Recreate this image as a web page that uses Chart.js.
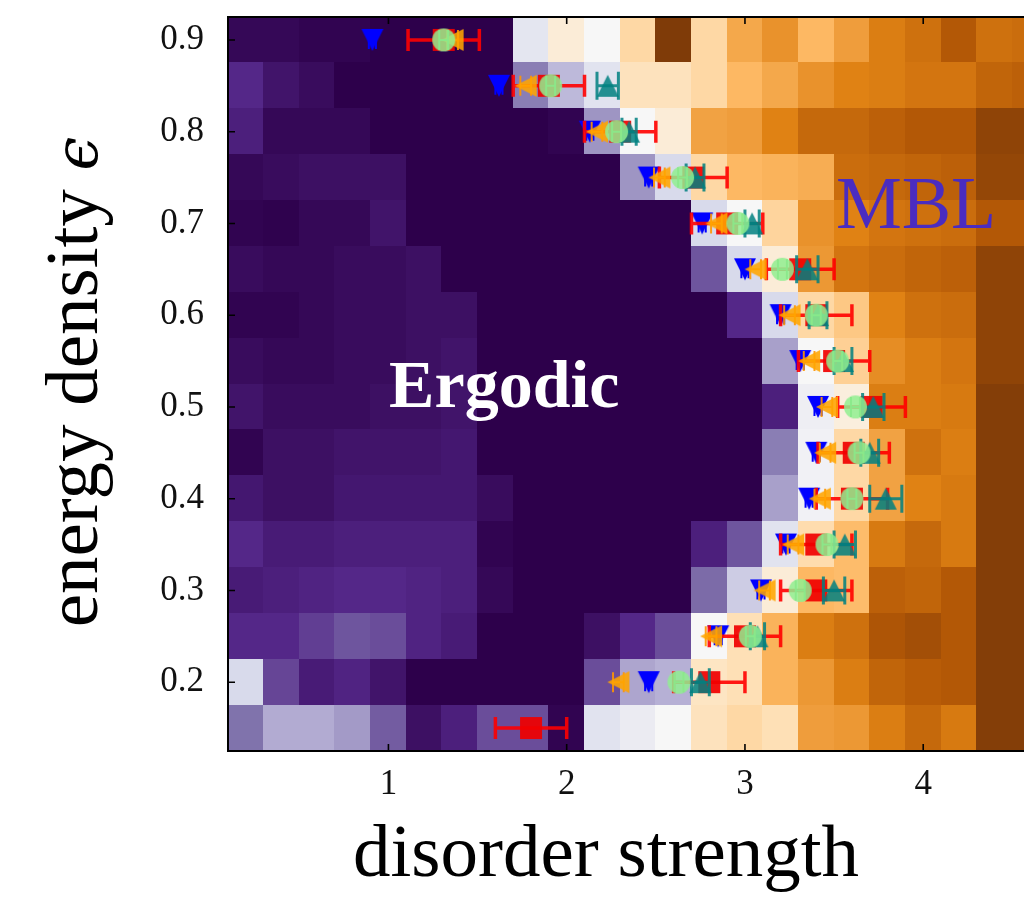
<!DOCTYPE html>
<html>
<head>
<meta charset="utf-8">
<script src="https://cdn.jsdelivr.net/npm/chart.js@4/dist/chart.umd.min.js"></script>
<style>
  html, body { margin: 0; padding: 0; background: #fff; overflow: hidden; width: 1024px; height: 901px; }
  #wrap { position: absolute; left: 0; top: 0; width: 1060px; height: 901px; }
</style>
</head>
<body>
<div id="wrap"><canvas id="c" width="1060" height="901"></canvas></div>
<script>
// ---- axis ticks ----
const xTicks = [1, 2, 3, 4];
const yTicks = [0.2, 0.3, 0.4, 0.5, 0.6, 0.7, 0.8, 0.9];

// ---- heat map grid (value 0 = ergodic purple, 0.5 = white, 1 = MBL brown) ----
const colCenters = [0.2, 0.4, 0.6, 0.8, 1.0, 1.2, 1.4, 1.6, 1.8, 2.0, 2.2, 2.4, 2.6, 2.8, 3.0, 3.2, 3.4, 3.6, 3.8, 4.0, 4.2, 4.4, 4.6];
const rowCenters = [0.9, 0.85, 0.8, 0.75, 0.7, 0.65, 0.6, 0.55, 0.5, 0.45, 0.4, 0.35, 0.3, 0.25, 0.2, 0.15];
const cellW = 0.2, cellH = 0.05;
const heat = [
  [0.02,0.02,0.01,0.01,0,0,0,0,0.44,0.55,0.5,0.62,1.0,0.62,0.73,0.77,0.7,0.75,0.81,0.84,0.9,0.84,0.85],
  [0.1,0.05,0.03,0,0,0,0,0,0.22,0.33,0.43,0.59,0.59,0.62,0.7,0.73,0.77,0.8,0.81,0.83,0.83,0.87,0.88],
  [0.08,0.02,0.02,0.02,0,0,0,0,0,0.01,0.26,0.5,0.55,0.74,0.75,0.8,0.86,0.86,0.88,0.9,0.9,0.97,0.97],
  [0.02,0.03,0.04,0.04,0.04,0,0,0,0,0,0,0.26,0.4,0.62,0.7,0.71,0.72,0.85,0.86,0.87,0.88,0.96,0.96],
  [0.01,0.005,0.02,0.02,0.05,0,0,0,0,0,0,0,0,0.4,0.5,0.63,0.77,0.8,0.83,0.84,0.85,0.9,0.9],
  [0.03,0.02,0.02,0.03,0.03,0.04,0,0,0,0,0,0,0,0.16,0.4,0.55,0.76,0.83,0.85,0.87,0.88,0.97,0.97],
  [0.01,0.01,0.02,0.03,0.03,0.04,0.04,0,0,0,0,0,0,0,0.1,0.4,0.62,0.66,0.8,0.84,0.85,0.97,0.97],
  [0.03,0.02,0.02,0.03,0.03,0.04,0.05,0,0,0,0,0,0,0,0,0.28,0.5,0.64,0.78,0.81,0.83,0.97,0.97],
  [0.05,0.03,0.03,0.03,0.04,0.04,0.05,0,0,0,0,0,0,0,0,0.08,0.47,0.54,0.81,0.81,0.82,0.99,0.99],
  [0.01,0.04,0.04,0.05,0.05,0.05,0.06,0,0,0,0,0,0,0,0,0.22,0.48,0.62,0.74,0.84,0.81,0.99,0.99],
  [0.06,0.04,0.04,0.06,0.06,0.06,0.06,0.03,0,0,0,0,0,0,0,0.28,0.48,0.62,0.74,0.8,0.82,0.99,0.99],
  [0.1,0.07,0.07,0.08,0.08,0.08,0.08,0.01,0,0,0,0,0,0.08,0.16,0.43,0.61,0.69,0.82,0.86,0.82,0.99,0.99],
  [0.07,0.08,0.09,0.1,0.1,0.09,0.08,0.02,0,0,0,0,0,0.19,0.37,0.55,0.7,0.69,0.88,0.87,0.9,0.99,0.99],
  [0.1,0.1,0.13,0.16,0.15,0.09,0.07,0,0,0,0.04,0.1,0.15,0.5,0.6,0.71,0.81,0.84,0.91,0.93,0.9,0.99,0.99],
  [0.4,0.14,0.07,0.09,0.05,0,0,0,0,0,0.15,0.29,0.31,0.58,0.6,0.71,0.76,0.81,0.87,0.89,0.9,0.99,0.99],
  [0.2,0.3,0.3,0.27,0.17,0.04,0.08,0.15,0.15,0.01,0.43,0.46,0.5,0.59,0.62,0.6,0.75,0.76,0.81,0.86,0.82,0.99,0.99]
];

// ---- transition estimates (one x per energy density level) ----
const levels   = [0.9, 0.85, 0.8, 0.75, 0.7, 0.65, 0.6, 0.55, 0.5, 0.45, 0.4, 0.35, 0.3, 0.25, 0.2];
const blueX    = [0.91, 1.62, 2.13, 2.46, 2.76, 3.00, 3.20, 3.31, 3.41, 3.40, 3.36, 3.23, 3.09, 2.85, 2.46];
const blueErr  = [0.02, 0.02, 0.02, 0.02, 0.02, 0.02, 0.02, 0.02, 0.02, 0.02, 0.02, 0.02, 0.02, 0.02, 0.02];
const orangeX  = [1.36, 1.77, 2.17, 2.52, 2.84, 3.06, 3.25, 3.36, 3.46, 3.45, 3.42, 3.27, 3.11, 2.81, 2.29];
const orangeErr= [0.03, 0.03, 0.03, 0.03, 0.03, 0.03, 0.03, 0.03, 0.03, 0.03, 0.03, 0.03, 0.03, 0.03, 0.03];
const redLevels= [0.9, 0.85, 0.8, 0.75, 0.7, 0.65, 0.6, 0.55, 0.5, 0.45, 0.4, 0.35, 0.3, 0.25, 0.2, 0.15];
const redX     = [1.31, 1.90, 2.30, 2.71, 2.90, 3.31, 3.40, 3.50, 3.71, 3.61, 3.60, 3.40, 3.40, 3.00, 2.80, 1.80];
const redErr   = [0.20, 0.20, 0.20, 0.19, 0.20, 0.19, 0.20, 0.20, 0.19, 0.20, 0.20, 0.20, 0.20, 0.20, 0.20, 0.20];
const greenX   = [1.31, 1.91, 2.28, 2.65, 2.96, 3.21, 3.40, 3.52, 3.62, 3.64, 3.60, 3.46, 3.31, 3.03, 2.63];
const greenErr = [0.025,0.025,0.025,0.025,0.025,0.025,0.025,0.025,0.025,0.025,0.025,0.025,0.025,0.025,0.025];
const tealLevels=[0.85, 0.8, 0.75, 0.7, 0.65, 0.6, 0.55, 0.5, 0.45, 0.4, 0.35, 0.3, 0.25, 0.2];
const tealX    = [2.23, 2.35, 2.72, 3.04, 3.35, 3.41, 3.55, 3.72, 3.70, 3.79, 3.56, 3.50, 3.07, 2.75];
const tealErr  = [0.06, 0.04, 0.05, 0.04, 0.06, 0.05, 0.05, 0.06, 0.05, 0.09, 0.06, 0.06, 0.04, 0.05];

// ---- PuOr colour map, purple end first ----
const PUOR = ['#2d004b','#542788','#8073ac','#b2abd2','#d8daeb','#f7f7f7','#fee0b6','#fdb863','#e08214','#b35806','#7f3b08'];
function hexRgb(h){ return [1,3,5].map(i => parseInt(h.slice(i, i+2), 16)); }
function cmap(v){
  v = Math.max(0, Math.min(1, v));
  const p = v * 10, i = Math.min(9, Math.floor(p)), t = p - i;
  const a = hexRgb(PUOR[i]), b = hexRgb(PUOR[i+1]);
  const c = a.map((av, k) => Math.round(av + (b[k] - av) * t));
  return `rgb(${c[0]},${c[1]},${c[2]})`;
}

// ---- marker glyphs ----
function markerCanvas(shape, size, color){
  const pad = 2, n = Math.ceil(size) + pad * 2;
  const cv = document.createElement('canvas');
  cv.width = n; cv.height = n;
  const g = cv.getContext('2d');
  const c = n / 2, h = size / 2;
  g.fillStyle = color;
  g.beginPath();
  if (shape === 'down') { g.moveTo(c-h, c-h); g.lineTo(c+h, c-h); g.lineTo(c, c+h); }
  else if (shape === 'up') { g.moveTo(c-h, c+h); g.lineTo(c+h, c+h); g.lineTo(c, c-h); }
  else if (shape === 'left') { g.moveTo(c+h, c-h); g.lineTo(c+h, c+h); g.lineTo(c-h, c); }
  else if (shape === 'square') { g.rect(c-h, c-h, size, size); }
  else { g.arc(c, c, h, 0, Math.PI * 2); }
  g.closePath();
  g.fill();
  return cv;
}

const pts = (xs, ys) => xs.map((x, i) => ({ x: x, y: ys[i] }));

// heat map cells, drawn underneath the markers
const heatmapPlugin = {
  id: 'heatmap',
  beforeDatasetsDraw(chart){
    const { ctx, chartArea: a, scales: { x, y } } = chart;
    ctx.save();
    ctx.beginPath();
    ctx.rect(a.left, a.top, a.right - a.left, a.bottom - a.top);
    ctx.clip();
    rowCenters.forEach((yc, r) => colCenters.forEach((xc, c) => {
      const x0 = x.getPixelForValue(xc - cellW / 2), x1 = x.getPixelForValue(xc + cellW / 2);
      const y0 = y.getPixelForValue(yc + cellH / 2), y1 = y.getPixelForValue(yc - cellH / 2);
      ctx.fillStyle = cmap(heat[r][c]);
      const l = Math.floor(x0), t = Math.floor(y0);
      ctx.fillRect(l, t, Math.ceil(x1) - l, Math.ceil(y1) - t);
    }));
    ctx.restore();
  }
};

// horizontal error bars with caps, drawn just below each series' markers
const errorBarPlugin = {
  id: 'xerr',
  beforeDatasetDraw(chart, args){
    const ds = chart.data.datasets[args.index];
    if (!ds.xErr) return;
    const { ctx, scales: { x, y } } = chart;
    ctx.save();
    ctx.strokeStyle = ds.errColor;
    ctx.lineWidth = ds.errWidth;
    ds.data.forEach((p, i) => {
      const e = ds.xErr[i];
      const xl = x.getPixelForValue(p.x - e), xr = x.getPixelForValue(p.x + e);
      const yp = y.getPixelForValue(p.y);
      const ch = ds.capHeight / 2;
      ctx.beginPath();
      ctx.moveTo(xl, yp); ctx.lineTo(xr, yp);
      ctx.moveTo(xl, yp - ch); ctx.lineTo(xl, yp + ch);
      ctx.moveTo(xr, yp - ch); ctx.lineTo(xr, yp + ch);
      ctx.stroke();
    });
    ctx.restore();
  }
};

// frame, inward tick marks and text
const framePlugin = {
  id: 'frame',
  afterDatasetsDraw(chart){
    const { ctx, chartArea: a, scales: { x, y } } = chart;
    ctx.save();
    ctx.strokeStyle = '#000';
    ctx.lineWidth = 1.6;
    ctx.beginPath();
    xTicks.forEach(v => {
      const px = x.getPixelForValue(v);
      ctx.moveTo(px, a.bottom); ctx.lineTo(px, a.bottom - 7);
      ctx.moveTo(px, a.top); ctx.lineTo(px, a.top + 7);
    });
    yTicks.forEach(v => {
      const py = y.getPixelForValue(v);
      ctx.moveTo(a.left, py); ctx.lineTo(a.left + 7, py);
      ctx.moveTo(a.right, py); ctx.lineTo(a.right - 7, py);
    });
    ctx.stroke();
    ctx.lineWidth = 2;
    ctx.strokeRect(a.left, a.top, a.right - a.left, a.bottom - a.top);

    // region labels
    ctx.textAlign = 'center';
    ctx.textBaseline = 'alphabetic';
    ctx.fillStyle = '#ffffff';
    ctx.font = 'bold 68px "Liberation Serif", serif';
    ctx.fillText('Ergodic', x.getPixelForValue(1.65), y.getPixelForValue(0.5));
    ctx.fillStyle = '#4a2cc0';
    ctx.font = '74px "Liberation Serif", serif';
    ctx.fillText('MBL', x.getPixelForValue(3.96), y.getPixelForValue(0.695));
    ctx.restore();
  },
  afterDraw(chart){
    const { ctx } = chart;
    ctx.save();
    ctx.fillStyle = '#000';
    ctx.textBaseline = 'alphabetic';
    ctx.textAlign = 'center';
    ctx.font = '75px "Liberation Serif", serif';
    ctx.fillText('disorder strength', 606, 876);
    // rotated axis title: upright words followed by an italic epsilon
    const upright = '75px "Liberation Serif", serif';
    const italic = 'italic 60px "DejaVu Serif", serif';
    ctx.font = upright;
    const w1 = ctx.measureText('energy density ').width;
    ctx.font = italic;
    const w2 = ctx.measureText('\u03F5').width;
    ctx.translate(97, 382);
    ctx.rotate(-Math.PI / 2);
    ctx.textAlign = 'left';
    const x0 = -(w1 + w2) / 2;
    ctx.font = upright;
    ctx.fillText('energy density ', x0, 0);
    ctx.font = italic;
    ctx.fillText('\u03F5', x0 + w1, 0);
    ctx.restore();
  }
};

const tickFont = { family: '"Liberation Serif", serif', size: 35 };

new Chart(document.getElementById('c'), {
  type: 'scatter',
  data: {
    datasets: [
      { label: 'green', data: pts(greenX, levels), xErr: greenErr, errColor: 'rgba(100,200,100,0.9)', errWidth: 2, capHeight: 20,
        pointStyle: markerCanvas('circle', 23, 'rgba(144,238,144,0.85)') },
      { label: 'teal', data: pts(tealX, tealLevels), xErr: tealErr, errColor: 'rgba(0,128,128,0.85)', errWidth: 3, capHeight: 28,
        pointStyle: markerCanvas('up', 22, 'rgba(0,128,128,0.85)') },
      { label: 'orange', data: pts(orangeX, levels), xErr: orangeErr, errColor: 'rgba(255,150,0,0.9)', errWidth: 2, capHeight: 20,
        pointStyle: markerCanvas('left', 22, 'rgba(255,165,0,0.88)') },
      { label: 'red', data: pts(redX, redLevels), xErr: redErr, errColor: 'rgba(255,0,0,0.9)', errWidth: 3.5, capHeight: 22,
        pointStyle: markerCanvas('square', 22, 'rgba(240,0,0,0.92)') },
      { label: 'blue', data: pts(blueX, levels), xErr: blueErr, errColor: '#0000ff', errWidth: 2, capHeight: 18,
        pointStyle: markerCanvas('down', 22, '#0000ff') }
    ]
  },
  options: {
    responsive: false,
    animation: false,
    devicePixelRatio: 1,
    layout: { padding: { left: 0, top: 17, right: 3, bottom: 0 } },
    plugins: { legend: { display: false }, tooltip: { enabled: false } },
    elements: { point: { radius: 11, hoverRadius: 11 } },
    scales: {
      x: {
        type: 'linear', min: 0.1, max: 4.7,
        afterBuildTicks: s => { s.ticks = xTicks.map(v => ({ value: v })); },
        afterFit: s => { s.height = 150; s.paddingLeft = 0; s.paddingRight = 0; },
        grid: { display: false, drawTicks: false },
        border: { display: false },
        ticks: { font: tickFont, color: '#111', padding: 13, maxRotation: 0, autoSkip: false, callback: v => String(v) }
      },
      y: {
        type: 'linear', min: 0.125, max: 0.925,
        afterBuildTicks: s => { s.ticks = yTicks.map(v => ({ value: v })); },
        afterFit: s => { s.width = 228; s.paddingTop = 0; s.paddingBottom = 0; },
        grid: { display: false, drawTicks: false },
        border: { display: false },
        ticks: { font: tickFont, color: '#111', padding: 24, autoSkip: false, callback: v => v.toFixed(1) }
      }
    }
  },
  plugins: [heatmapPlugin, errorBarPlugin, framePlugin]
});
</script>
</body>
</html>
